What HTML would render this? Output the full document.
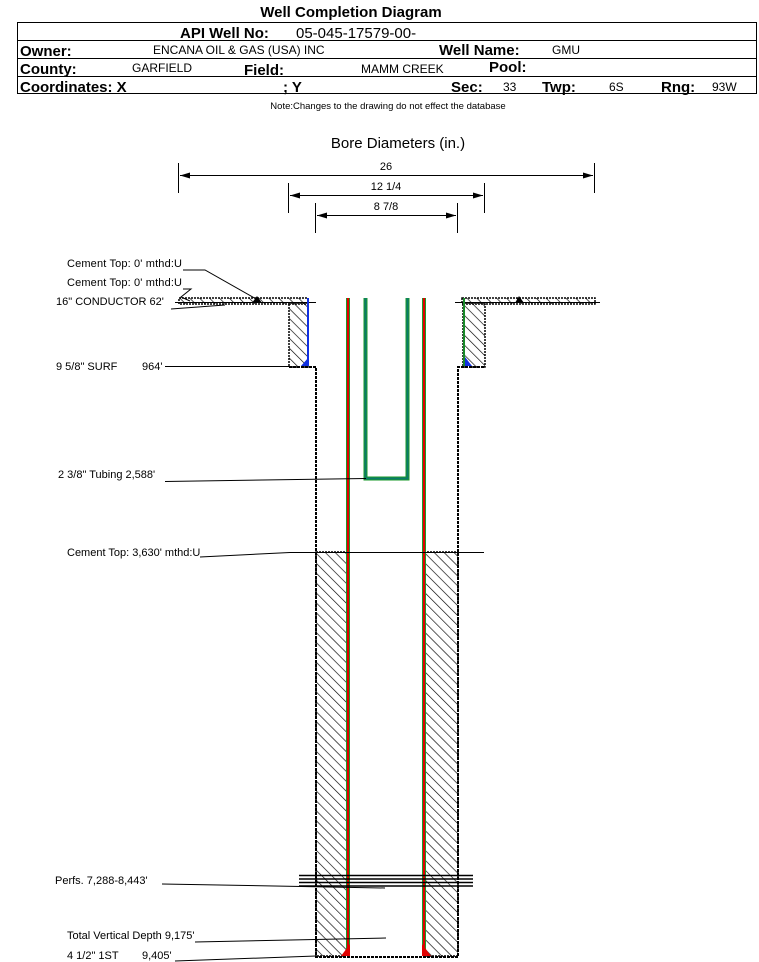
<!DOCTYPE html>
<html><head><meta charset="utf-8"><style>
html,body{margin:0;padding:0;background:#fff;}
svg{display:block;font-family:"Liberation Sans",Arial,sans-serif;}
</style></head><body>
<svg width="759" height="962" viewBox="0 0 759 962" xmlns="http://www.w3.org/2000/svg">
<defs>
<pattern id="h" patternUnits="userSpaceOnUse" width="7" height="7" patternTransform="rotate(-45)">
<rect width="7" height="7" fill="#fff"/><line x1="0" y1="0" x2="0" y2="7" stroke="#000" stroke-width="1.3"/>
</pattern>
<marker id="al" markerWidth="10" markerHeight="6" refX="0" refY="3" orient="auto"><path d="M0,3 L10,0 L10,6Z" fill="#000"/></marker>
<marker id="ar" markerWidth="10" markerHeight="6" refX="10" refY="3" orient="auto"><path d="M10,3 L0,0 L0,6Z" fill="#000"/></marker>
</defs>
<text x="351" y="17" font-size="15" font-weight="bold" text-anchor="middle">Well Completion Diagram</text>
<rect x="17.5" y="22.5" width="739" height="71" fill="none" stroke="#000"/>
<line x1="17" y1="40.5" x2="757" y2="40.5" stroke="#000"/>
<line x1="17" y1="58.5" x2="757" y2="58.5" stroke="#000"/>
<line x1="17" y1="76.5" x2="757" y2="76.5" stroke="#000"/>
<text x="180" y="38" font-size="15" font-weight="bold">API Well No:</text>
<text x="296" y="38" font-size="15">05-045-17579-00-</text>
<text x="20" y="56" font-size="15" font-weight="bold">Owner:</text>
<text x="153" y="54" font-size="12">ENCANA OIL &amp; GAS (USA) INC</text>
<text x="439" y="55" font-size="15" font-weight="bold">Well Name:</text>
<text x="552" y="54" font-size="12">GMU</text>
<text x="20" y="74" font-size="15" font-weight="bold">County:</text>
<text x="132" y="72" font-size="12">GARFIELD</text>
<text x="244" y="75" font-size="15" font-weight="bold">Field:</text>
<text x="361" y="73" font-size="12">MAMM CREEK</text>
<text x="489" y="72" font-size="15" font-weight="bold">Pool:</text>
<text x="20" y="92" font-size="15" font-weight="bold">Coordinates: X</text>
<text x="283" y="92" font-size="15" font-weight="bold">; Y</text>
<text x="451" y="92" font-size="15" font-weight="bold">Sec:</text>
<text x="503" y="91" font-size="12">33</text>
<text x="542" y="92" font-size="15" font-weight="bold">Twp:</text>
<text x="609" y="91" font-size="12">6S</text>
<text x="661" y="92" font-size="15" font-weight="bold">Rng:</text>
<text x="712" y="91" font-size="12">93W</text>
<text x="388" y="109" font-size="9.5" text-anchor="middle">Note:Changes to the drawing do not effect the database</text>

<text x="398" y="148" font-size="15" text-anchor="middle">Bore Diameters (in.)</text>
<g stroke="#000" stroke-width="1">
<line x1="178.5" y1="163" x2="178.5" y2="193"/><line x1="594.5" y1="163" x2="594.5" y2="193"/>
<line x1="180" y1="175.5" x2="593" y2="175.5" marker-start="url(#al)" marker-end="url(#ar)"/>
<line x1="288.5" y1="183" x2="288.5" y2="213"/><line x1="484.5" y1="183" x2="484.5" y2="213"/>
<line x1="290" y1="195.5" x2="483" y2="195.5" marker-start="url(#al)" marker-end="url(#ar)"/>
<line x1="315.5" y1="203" x2="315.5" y2="233"/><line x1="457.5" y1="203" x2="457.5" y2="233"/>
<line x1="317" y1="215.5" x2="456" y2="215.5" marker-start="url(#al)" marker-end="url(#ar)"/>
</g>
<g font-size="11" text-anchor="middle"><text x="386" y="170">26</text><text x="386" y="190">12 1/4</text><text x="386" y="210">8 7/8</text></g>

<g fill="url(#h)" stroke="#000" stroke-width="1.5" stroke-dasharray="2,1">
<path d="M179,298 H308 V304 H179 Z"/>
<path d="M462,298 H595 V304 H462 Z"/>
<rect x="289" y="304" width="19" height="63"/>
<rect x="463" y="304" width="22" height="63"/>
<rect x="316" y="552" width="32" height="404"/>
<rect x="424" y="552" width="34" height="404"/>
</g>
<g fill="none" stroke="#000" stroke-width="2" stroke-dasharray="3,1">
<path d="M289,367 H316 V957 H458 V367 H485"/>
</g>
<line x1="175" y1="302.5" x2="316" y2="302.5" stroke="#000"/>
<line x1="455" y1="302.5" x2="600" y2="302.5" stroke="#000"/>
<line x1="308" y1="298" x2="308" y2="366" stroke="#1030e0" stroke-width="2"/>
<line x1="464" y1="298" x2="464" y2="366" stroke="#1a8a2a" stroke-width="2"/>
<path d="M301,366 L308,366 L308,358Z" fill="#1030e0"/>
<path d="M465,357 L465,366 L472,366Z" fill="#1030e0"/>
<path d="M252,303 L257,296 L262,303Z" fill="#000"/>
<path d="M515,303 L519,296 L524,303Z" fill="#000"/>
<g stroke-width="4"><line x1="348" y1="298" x2="348" y2="956" stroke="#1a9a2a"/><line x1="424" y1="298" x2="424" y2="956" stroke="#1a9a2a"/></g>
<g stroke-width="2"><line x1="348" y1="298" x2="348" y2="956" stroke="#e00000"/><line x1="424" y1="298" x2="424" y2="956" stroke="#e00000"/></g>
<path d="M341,956 L350,956 L350,944Z" fill="#e00000"/>
<path d="M422,944 L422,956 L431,956Z" fill="#e00000"/>
<path d="M365.5,298 V478.5 H407.5 V298" fill="none" stroke="#1a9a2a" stroke-width="4"/>
<path d="M365.5,298 V478.5 H407.5 V298" fill="none" stroke="#0a7a6a" stroke-width="2"/>
<line x1="290" y1="552.5" x2="484" y2="552.5" stroke="#000"/>
<g stroke="#000" stroke-width="1.5"><line x1="299" y1="875.5" x2="473" y2="875.5"/><line x1="299" y1="879" x2="473" y2="879"/><line x1="299" y1="882.5" x2="473" y2="882.5"/><line x1="299" y1="886" x2="473" y2="886"/></g>

<g font-size="11">
<text x="67" y="267" textLength="115">Cement Top: 0' mthd:U</text>
<text x="67" y="286" textLength="115">Cement Top: 0' mthd:U</text>
<text x="56" y="305">16" CONDUCTOR  62'</text>
<text x="56" y="370">9 5/8" SURF</text><text x="142" y="370">964'</text>
<text x="58" y="478">2 3/8" Tubing 2,588'</text>
<text x="67" y="556">Cement Top: 3,630' mthd:U</text>
<text x="55" y="884">Perfs. 7,288-8,443'</text>
<text x="67" y="939">Total Vertical Depth 9,175'</text>
<text x="67" y="959">4 1/2" 1ST</text><text x="142" y="959">9,405'</text>
</g>
<g stroke="#000" stroke-width="1" fill="none">
<path d="M183,270 H205 L258,300"/>
<path d="M183,289 H191 L181,297 L190,301"/>
<path d="M171,309 L225,305"/>
<line x1="165" y1="366.5" x2="289" y2="366.5"/>
<path d="M165,481.5 L366,478.5"/>
<path d="M200,557 L290,552.5"/>
<path d="M162,884 L385,888"/>
<path d="M195,942 L386,938"/>
<path d="M175,961 L316,956"/>
</g>
</svg>
</body></html>
